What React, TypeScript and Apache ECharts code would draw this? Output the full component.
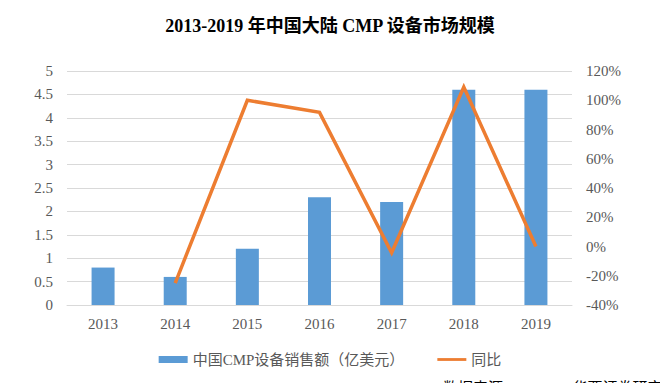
import React, { useEffect, useRef } from "react";
import * as echarts from "echarts";

const years = ["2013", "2014", "2015", "2016", "2017", "2018", "2019"];
const sales = [0.8, 0.6, 1.2, 2.3, 2.2, 4.6, 4.6];
const yoy = [null, -25, 100, 91.7, -4.3, 109.1, 0];
const salesName = "中国CMP设备销售额（亿美元）";
const yoyName = "同比";
const titleText = "2013-2019 年中国大陆 CMP 设备市场规模";
const sourceText = "数据来源：SEMI， 华西证券研究所";

const FONT = "'Liberation Serif', 'Noto Sans CJK SC', serif";
const GRAY = "#595959";

export default function App() {
  const ref = useRef<HTMLDivElement>(null);
  useEffect(() => {
    if (!ref.current) return;
    const chart = echarts.init(ref.current, undefined, { renderer: "svg" });
    chart.setOption({
      animation: false,
      backgroundColor: "#ffffff",
      title: {
        text: titleText,
        left: "center",
        top: 12,
        textStyle: { fontFamily: FONT, fontSize: 18, fontWeight: "bold", color: "#000" },
      },
      legend: {
        top: 347,
        left: "center",
        itemWidth: 29,
        itemHeight: 7,
        itemGap: 33,
        symbolKeepAspect: true,
        textStyle: { fontFamily: FONT, fontSize: 15, color: GRAY },
        data: [
          { name: salesName, icon: "rect" },
          { name: yoyName, icon: "path://M0,0H31V3H0Z" },
        ],
      },
      graphic: [
        {
          type: "text",
          left: 443,
          top: 380,
          style: { text: sourceText, fontFamily: FONT, fontSize: 15, fill: "#000" },
        },
      ],
      grid: { left: 67, right: 88, top: 71, bottom: 78 },
      xAxis: {
        type: "category",
        data: years,
        axisLine: { lineStyle: { color: "#d9d9d9" } },
        axisTick: { show: false },
        axisLabel: { fontFamily: FONT, fontSize: 15, color: GRAY, margin: 11 },
      },
      yAxis: [
        {
          type: "value",
          min: 0,
          max: 5,
          interval: 0.5,
          axisLine: { show: false },
          axisTick: { show: false },
          splitLine: { lineStyle: { color: "#d9d9d9", width: 1 } },
          axisLabel: { fontFamily: FONT, fontSize: 15, color: GRAY, margin: 14 },
        },
        {
          type: "value",
          min: -40,
          max: 120,
          interval: 20,
          axisLine: { show: false },
          axisTick: { show: false },
          splitLine: { show: false },
          axisLabel: {
            fontFamily: FONT,
            fontSize: 15,
            color: GRAY,
            margin: 14,
            formatter: "{value}%",
          },
        },
      ],
      series: [
        {
          name: salesName,
          type: "bar",
          data: sales,
          barWidth: 23,
          itemStyle: { color: "#5b9bd5" },
          yAxisIndex: 0,
        },
        {
          name: yoyName,
          type: "line",
          data: yoy,
          yAxisIndex: 1,
          symbol: "none",
          showSymbol: false,
          itemStyle: { color: "#ed7d31" },
          lineStyle: { color: "#ed7d31", width: 3.5, join: "miter" },
        },
      ],
    });
    return () => chart.dispose();
  }, []);
  return (
    <div
      ref={ref}
      style={{ position: "fixed", left: 0, top: 0, width: 660, height: 383 }}
    />
  );
}
